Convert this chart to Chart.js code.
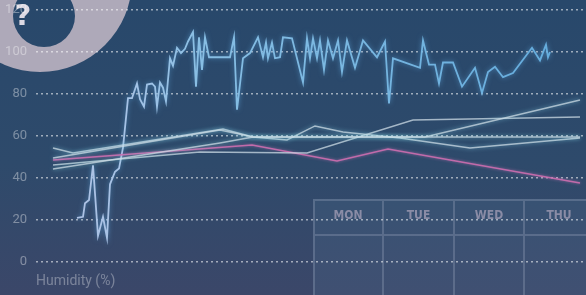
<!DOCTYPE html>
<html><head><meta charset="utf-8">
<script src="https://cdn.jsdelivr.net/npm/chart.js@4/dist/chart.umd.min.js"></script>
<style>
html,body{margin:0;padding:0;}
body{width:586px;height:295px;overflow:hidden;background:linear-gradient(180deg,#28486b 0%,#2e4a6b 55%,#3b4769 100%);}
canvas{display:block;}
</style></head>
<body>
<canvas id="c" width="586" height="295"></canvas>
<script>
const yTicks = [0, 20, 40, 60, 80, 100, 120];
const axisTitle = 'Humidity (%)';
const dayLabels = ['MON', 'TUE', 'WED', 'THU'];

const humidityX = [41,47,49,53,57,62,67,71,74,79,83,87,92,96,101,104,108,111,116,119,121,124,127,130,134,137,141,145,149,152,157,160,163,166,169,173,194,198,201,207,214,222,227,230,232,236,239,244,247,256,267,271,274,277,281,284,288,292,297,302,306,311,319,327,341,349,353,357,384,387,393,399,403,407,417,426,439,446,452,459,467,477,496,504,510,512,514];
const humidityValues = [21,21.5,28,29.5,46,12.5,21.5,11.5,37,43,44.5,54.5,78,78,85,77.5,74,84.5,85,83.5,74,85.5,83,76.5,97,93.5,102,99.5,101.5,105,109.5,83.5,107,91.5,107,97.5,97.5,107,72.5,97,99.5,107,97.5,104.5,97,104.5,97,97.5,107,106.5,85.5,106.5,97,106.5,97,105.5,91.5,105.5,97,105.5,90.5,105.5,92.5,105.5,97.5,105,75.5,97,92.5,105.5,94,94,85,95,95,83.5,92.5,80.5,90.5,93,88,90,102,96,103.5,97.5,100];

const pinkX = [17,216,301,352,544];
const pinkValues = [48.6,55.7,48.1,53.8,37.6];
const line1X = [17,37,187,217,251,279,307,364,434,544];
const line1Values = [54.3,51.9,63.3,59.5,58.1,64.8,61.9,59,54.3,59];
const line2X = [17,184,217,389,544];
const line2Values = [49.5,62.9,59.5,59.5,77.1];
const line3X = [17,164,271,377,544];
const line3Values = [46.2,52.4,51.9,67.6,69];
const line4X = [17,184,217,544];
const line4Values = [44.3,56.7,59.5,59.5];

const pts = (xs, ys) => xs.map((x, i) => ({x, y: ys[i]}));

const decor = {
  id: 'decor',
  beforeDraw(chart) {
    const ctx = chart.ctx;
    ctx.save();
    ctx.fillStyle = '#aea9b9';
    ctx.beginPath(); ctx.arc(40, -20, 92, 0, Math.PI * 2); ctx.fill();
    ctx.globalCompositeOperation = 'destination-out';
    ctx.beginPath(); ctx.arc(44, 16, 31, 0, Math.PI * 2); ctx.fill();
    ctx.globalCompositeOperation = 'source-over';
    ctx.fillStyle = '#dcd9e3';
    ctx.font = 'bold 29px "DejaVu Sans"';
    ctx.textAlign = 'center'; ctx.textBaseline = 'alphabetic';
    ctx.fillText('?', 23, 25);
    ctx.fillStyle = 'rgba(95,130,160,0.16)';
    ctx.fillRect(313, 199, 280, 96);
    ctx.strokeStyle = 'rgba(150,160,185,0.35)';
    ctx.lineWidth = 2;
    ctx.beginPath();
    ctx.moveTo(313, 200); ctx.lineTo(586, 200);
    ctx.moveTo(313, 235); ctx.lineTo(586, 235);
    [314, 383, 454, 524].forEach(x => { ctx.moveTo(x, 199); ctx.lineTo(x, 295); });
    ctx.stroke();
    ctx.fillStyle = '#8a8ca6';
    ctx.font = 'bold 12px "DejaVu Sans Condensed", "DejaVu Sans"';
    ctx.textBaseline = 'middle';
    [348, 418.5, 489, 559].forEach((x, i) => ctx.fillText(dayLabels[i], x, 216));
    ctx.restore();
  }
};

const glow = {
  id: 'glow',
  beforeDatasetDraw(chart, args) {
    const ds = chart.data.datasets[args.index];
    const ctx = chart.ctx;
    ctx.save();
    ctx.shadowColor = ds.glowColor || 'rgba(0,0,0,0)';
    ctx.shadowBlur = ds.glowBlur || 0;
  },
  afterDatasetDraw(chart) { chart.ctx.restore(); }
};

function humGradient(ctx) {
  const c = ctx.chart;
  if (!c.chartArea) return '#87bee4';
  const g = c.ctx.createLinearGradient(c.chartArea.left, 0, c.chartArea.right, 0);
  g.addColorStop(0, 'rgba(185,198,232,0.95)');
  g.addColorStop(0.18, 'rgba(170,200,235,0.95)');
  g.addColorStop(0.3, 'rgba(140,195,232,0.95)');
  g.addColorStop(1, 'rgba(100,175,225,0.95)');
  return g;
}

const thin = 'rgba(205,220,230,0.75)';
new Chart(document.getElementById('c'), {
  type: 'line',
  data: {
    datasets: [
      {data: pts(line4X, line4Values), borderColor: thin, borderWidth: 1.5, glowColor: 'rgba(140,230,230,0.8)', glowBlur: 4},
      {data: pts(line2X, line2Values), borderColor: thin, borderWidth: 1.5, glowColor: 'rgba(140,220,240,0.8)', glowBlur: 4},
      {data: pts(line3X, line3Values), borderColor: thin, borderWidth: 1.5},
      {data: pts(line1X, line1Values), borderColor: thin, borderWidth: 1.5, glowColor: 'rgba(140,220,240,0.8)', glowBlur: 4},
      {data: pts(pinkX, pinkValues), borderColor: 'rgba(205,110,175,0.9)', borderWidth: 1.5, glowColor: 'rgba(220,120,190,0.7)', glowBlur: 3},
      {data: pts(humidityX, humidityValues), borderColor: humGradient, borderWidth: 1.8, glowColor: 'rgba(100,180,240,0.6)', glowBlur: 5}
    ]
  },
  options: {
    responsive: false,
    animation: false,
    events: [],
    layout: {padding: {top: 10, left: 0, right: 0, bottom: 0}},
    elements: {point: {radius: 0}, line: {tension: 0}},
    plugins: {legend: {display: false}, tooltip: {enabled: false}},
    scales: {
      x: {
        type: 'linear', min: 0, max: 550,
        grid: {display: false}, border: {display: false},
        ticks: {display: false},
        title: {display: true, text: axisTitle, align: 'start', color: 'rgba(255,255,255,0.33)', font: {family: 'Roboto', size: 14}, padding: {top: 0, bottom: 5}},
        afterFit: s => { s.height = 33; }
      },
      y: {
        min: 0, max: 120,
        afterBuildTicks: s => { s.ticks = yTicks.map(v => ({value: v})); },
        grid: {color: 'rgba(255,255,255,0.55)', lineWidth: 1.5, drawTicks: false},
        border: {display: false, dash: [2, 3]},
        ticks: {color: 'rgba(255,255,255,0.38)', font: {family: 'Roboto', size: 13}, padding: 9},
        afterFit: s => { s.width = 36; s.paddingTop = 0; s.paddingBottom = 0; }
      }
    }
  },
  plugins: [decor, glow]
});
</script>
</body></html>
